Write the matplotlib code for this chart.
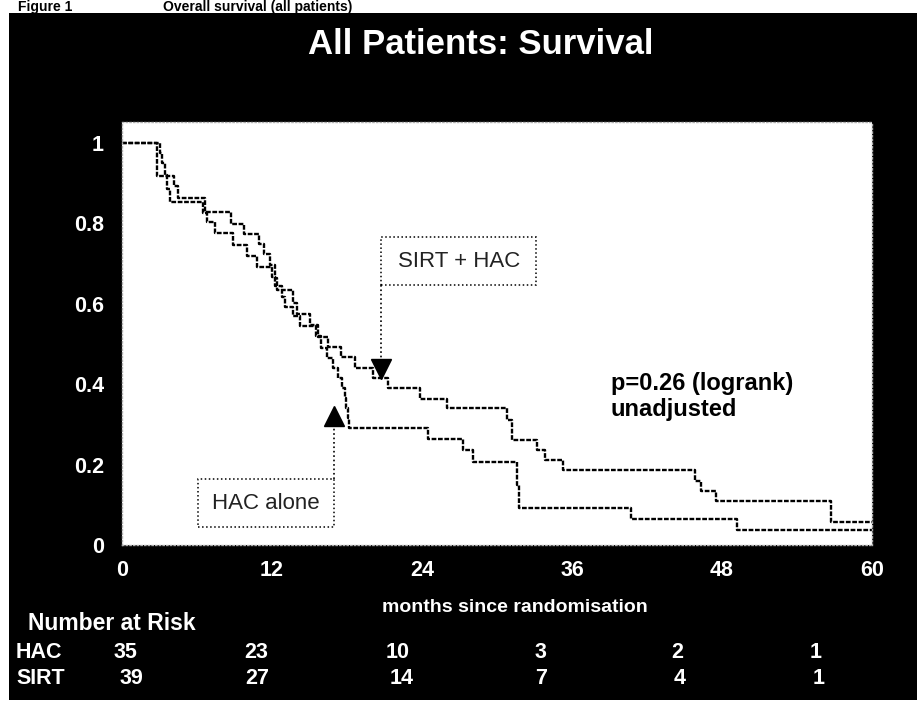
import matplotlib
matplotlib.use("Agg")
import matplotlib.pyplot as plt
from matplotlib.patches import Rectangle

W, H = 917, 702

# Kaplan-Meier estimates (months, survival after the step)
sirt_t = [0, 2.77, 4.19, 4.5, 6.64, 8.69, 9.76, 10.96, 11.36, 11.8, 12.24, 12.4,
          13.65, 14.0, 15.0, 15.7, 16.5, 17.5, 18.6, 20.1, 21.3, 23.8, 26.0,
          30.8, 31.2, 33.2, 33.8, 35.3, 45.8, 46.3, 47.5, 56.7, 60]
sirt_s = [1.0, 0.919, 0.894, 0.862, 0.829, 0.798, 0.773, 0.748, 0.724, 0.697, 0.665, 0.634,
          0.601, 0.575, 0.547, 0.518, 0.493, 0.468, 0.44, 0.415, 0.39, 0.363, 0.34,
          0.31, 0.261, 0.236, 0.211, 0.186, 0.16, 0.135, 0.11, 0.056, 0.056]

hac_t = [0, 3.0, 3.2, 3.4, 3.6, 3.8, 6.5, 6.8, 7.44, 8.85, 9.97, 10.77, 12.0, 12.2,
         12.8, 13.0, 13.7, 14.2, 15.5, 15.9, 16.4, 16.9, 17.3, 17.6, 17.8, 17.95,
         18.05, 18.15, 24.5, 27.3, 28.1, 31.6, 31.75, 40.7, 49.2, 60]
hac_s = [1.0, 0.975, 0.95, 0.92, 0.885, 0.853, 0.827, 0.803, 0.777, 0.747, 0.719, 0.692, 0.667, 0.645,
         0.617, 0.593, 0.57, 0.545, 0.52, 0.49, 0.466, 0.44, 0.415, 0.39, 0.365, 0.34,
         0.315, 0.29, 0.264, 0.236, 0.206, 0.15, 0.093, 0.065, 0.037, 0.037]

x_ticks = [0, 12, 24, 36, 48, 60]
y_ticks = [0, 0.2, 0.4, 0.6, 0.8, 1]
y_labels = ["0", "0.2", "0.4", "0.6", "0.8", "1"]

risk_groups = ["HAC", "SIRT"]
hac_risk = [35, 23, 10, 3, 2, 1]
sirt_risk = [39, 27, 14, 7, 4, 1]

bold = dict(family="Liberation Sans", weight="bold")
narrow = ["Liberation Sans Narrow", "Liberation Sans"]

fig = plt.figure(figsize=(W / 100, H / 100), dpi=100, facecolor="white")
# black slide background
fig.patches.append(Rectangle((9 / W, 2 / H), 1, (700 - 13) / H, transform=fig.transFigure,
                             facecolor="black", edgecolor="none", zorder=-10))

ax = fig.add_axes([122 / W, 1 - 545 / H, (872 - 122) / W, (545 - 122) / H])
ax.set_facecolor("white")
ax.set_xlim(0, 60)
ax.set_ylim(0, (545 - 122) / 402)
for s in ax.spines.values():
    s.set_color("#b0b0b0")
    s.set_linestyle(":")
    s.set_linewidth(1)

ax.step(sirt_t, sirt_s, where="post", color="black", lw=1.7, ls=(0, (2, 0.7)))
ax.step(hac_t, hac_s, where="post", color="black", lw=1.7, ls=(0, (2, 0.7)))

ax.set_xticks(x_ticks)
ax.set_yticks(y_ticks)
ax.set_yticklabels(y_labels)
ax.tick_params(length=0, colors="white", labelsize=15.5)
ax.tick_params(axis="x", pad=11)
ax.tick_params(axis="y", pad=13)
for lab in ax.get_xticklabels() + ax.get_yticklabels():
    lab.set_fontfamily("Liberation Sans")
    lab.set_fontweight("bold")

# label boxes and arrows
ax.add_patch(Rectangle((20.74, 0.647), 33.15 - 20.74, 0.767 - 0.647, facecolor="white",
                       edgecolor="black", ls=":", lw=1.1, zorder=3))
ax.text(26.95, 0.705, "SIRT + HAC", ha="center", va="center", fontsize=16,
        family=narrow, color="#222222", zorder=4)
ax.plot([20.74, 20.74], [0.647, 0.45], color="black", ls=":", lw=1.2)
ax.plot([20.74], [0.437], marker="v", color="black", markersize=14, zorder=5)

ax.add_patch(Rectangle((6.06, 0.044), 16.98 - 6.06, 0.163 - 0.044, facecolor="white",
                       edgecolor="black", ls=":", lw=1.1, zorder=3))
ax.text(11.5, 0.102, "HAC alone", ha="center", va="center", fontsize=16,
        family=narrow, color="#222222", zorder=4)
ax.plot([16.98, 16.98], [0.163, 0.31], color="black", ls=":", lw=1.2)
ax.plot([16.98], [0.322], marker="^", color="black", markersize=14, zorder=5)

ax.text(39.1, 0.37, "p=0.26 (logrank)\nunadjusted", ha="left", va="center",
        fontsize=17, linespacing=1.15, color="black", **bold)

# slide texts
fig.text(481 / W, 1 - 45 / H, "All Patients: Survival", ha="center", va="center",
         fontsize=25, color="white", **bold)
fig.text(18 / W, 1 - 10.5 / H, "Figure 1", ha="left", va="baseline", fontsize=10,
         color="black", **bold)
fig.text(163 / W, 1 - 10.5 / H, "Overall survival (all patients)", ha="left", va="baseline",
         fontsize=10, color="black", **bold)
fig.text(515 / W, 1 - 608 / H, "months since randomisation", ha="center", va="center",
         fontsize=14, color="white", **bold)
fig.text(28 / W, 1 - 623 / H, "Number at Risk", ha="left", va="center",
         fontsize=16.5, color="white", **bold)

risk_x = {"HAC": [125, 256, 398, 540, 677, 816], "SIRT": [131, 257, 402, 541, 680, 819]}
risk_y = {"HAC": 652, "SIRT": 678}
for grp, vals in zip(risk_groups, [hac_risk, sirt_risk]):
    fig.text(16 / W, 1 - risk_y[grp] / H, grp, ha="left", va="center",
             fontsize=15.5, color="white", **bold)
    for px, v in zip(risk_x[grp], vals):
        fig.text(px / W, 1 - risk_y[grp] / H, str(v), ha="center", va="center",
                 fontsize=15.5, color="white", **bold)

fig.savefig("out.png", dpi=100, facecolor="white")
